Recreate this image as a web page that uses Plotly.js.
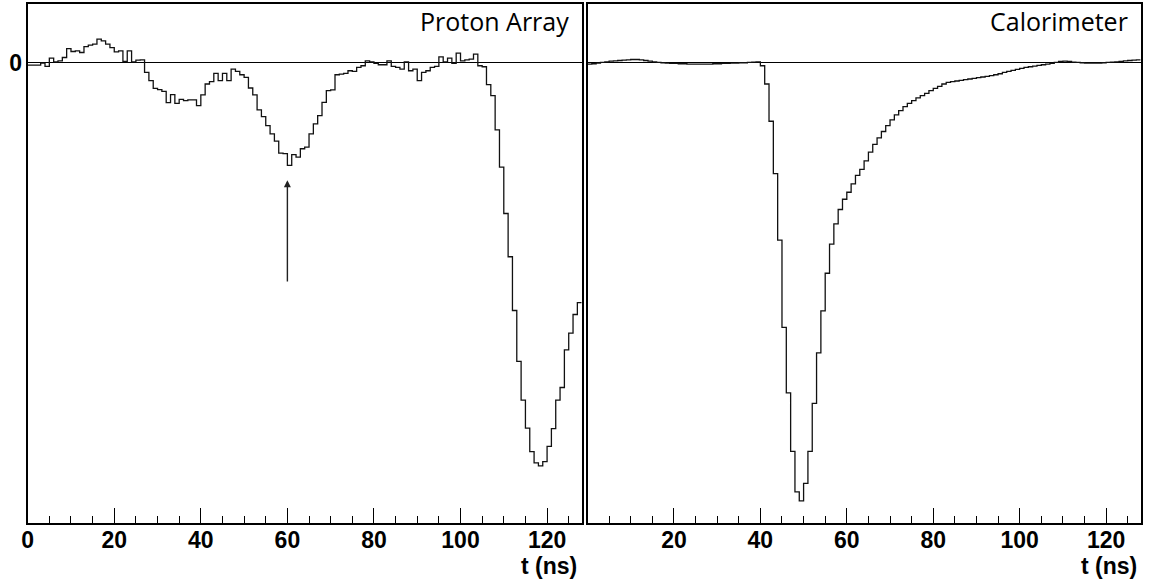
<!DOCTYPE html>
<html>
<head>
<meta charset="utf-8">
<script src="https://cdn.plot.ly/plotly-3.0.1.min.js"></script>
<style>html,body{margin:0;padding:0;background:#fff;}#chart{width:1153px;height:583px;}</style>
</head>
<body>
<div id="chart"></div>
<script>
// Bin lower edges (ns), 1 ns bins from 0 to 128
const binEdges = Array.from({length: 129}, (_, i) => i);

// Proton Array signal (arbitrary units, 0 = baseline)
const protonArray = [
  -2.3, -2.3, -2.3, -0.3, -3.7, 4.7, 1, 2, 5.3, 14.3,
  11.3, 12, 10.3, 16.3, 17.7, 18.7, 23.7, 22, 18.7, 15.3,
  11, 12, 1.3, 12, 1, 2.7, 3, -9.7, -18, -25.7,
  -27, -28.7, -40, -32, -40.7, -36.7, -38, -37.3, -37.3, -43,
  -32.3, -21.3, -19, -10.7, -18, -10.7, -18, -6.3, -8.7, -12,
  -14.7, -25.3, -32.3, -47.3, -54, -63, -71.3, -78.7, -90.7, -91.3,
  -103, -92.3, -94.7, -86.3, -84.7, -71.3, -61.3, -53, -39.7, -28,
  -27.3, -12, -11.3, -10.7, -8, -8.7, -4.7, -3, 2, 1,
  -0.7, -2, -2, 2, -3.7, -4.7, -6.3, 1, -8, -6.3,
  -18, -9.7, -8, -4.7, -3.7, 6, 1, 4.7, -0.7, 9.7,
  2, 3, 3.7, 8.7, -3, -4, -22, -33, -67.3, -104.7,
  -151.3, -194.7, -248.7, -299.7, -338.7, -366.7, -390.3, -401.7, -404.7, -400.3,
  -385, -367.3, -338.7, -326, -288.3, -271.3, -252.7, -240.7
];

// Calorimeter signal (arbitrary units, 0 = baseline)
const calorimeter = [
  -1.3, -1, -0.3, 0.3, 1, 1.7, 2, 2.3, 2.7, 3,
  3.3, 3.3, 3, 2.3, 1.7, 1, 0.3, 0, -0.3, -0.7,
  -0.7, -1, -1, -1.3, -1.3, -1.3, -1.3, -1.3, -1.3, -1,
  -1, -0.7, -0.7, -0.3, -0.3, 0, 0, 0.3, 0.7, 1,
  -3, -21.3, -58.7, -111.3, -178, -265.7, -331.3, -390, -430.7, -439.7,
  -422.3, -390, -342, -291.3, -249, -211.3, -182, -161.7, -147.3, -137,
  -130, -121.5, -113, -107, -98.5, -89.7, -82, -75.3, -69, -63,
  -57.3, -52.3, -48, -44, -40.7, -38, -35.3, -33, -30.7, -28,
  -25.7, -23.7, -21.3, -19.7, -19, -18.3, -17.7, -17, -16.3, -15.7,
  -15, -14.3, -13.7, -13, -12, -11, -9.7, -8.7, -7.7, -6.7,
  -5.7, -4.7, -4, -3.3, -2.7, -2, -1.3, -0.7, 0.3, 1.3,
  1.7, 1.3, 0.7, 0.3, 0, -0.3, -0.3, -0.3, -0.3, 0,
  0.3, 0.7, 1, 1.3, 2, 2.3, 2.7, 3
];

const panelTitles = ["Proton Array", "Calorimeter"];
const xTitle = "t (ns)";
const leftTicks = [0, 20, 40, 60, 80, 100, 120];
const rightTicks = [20, 40, 60, 80, 100, 120];
const arrowX = 60, arrowTip = -118, arrowTail = -221;
const yRange = [-462.3, 59];

function stepY(v) { return v.concat([v[v.length - 1]]); }

const W = 1153, H = 583;
const lineStyle = {color: '#111', width: 1.3, shape: 'hv'};

const traces = [
  {x: binEdges, y: stepY(protonArray), type: 'scatter', mode: 'lines', line: lineStyle,
   xaxis: 'x', yaxis: 'y', hoverinfo: 'skip'},
  {x: binEdges, y: stepY(calorimeter), type: 'scatter', mode: 'lines', line: lineStyle,
   xaxis: 'x2', yaxis: 'y2', hoverinfo: 'skip'}
];

const tickFont = {family: 'Liberation Sans, Arial, sans-serif', size: 23, weight: 'bold', color: '#000'};

function xAxis(domain, ticks, anchor) {
  return {
    domain: domain, range: [0, 128], anchor: anchor,
    showline: true, linecolor: '#000', linewidth: 2, mirror: true,
    showgrid: false, zeroline: false,
    tickmode: 'array', tickvals: ticks, ticktext: ticks.map(String),
    ticks: 'inside', ticklen: 15, tickwidth: 1, tickcolor: '#000',
    minor: {tickmode: 'linear', tick0: 0, dtick: 5, ticks: 'inside', ticklen: 7.5, tickwidth: 1, tickcolor: '#000', showgrid: false},
    tickfont: tickFont, ticklabelstandoff: -5
  };
}
function yAxis(anchor, showLabel) {
  return {
    domain: [(H - 523.3) / H, (H - 4) / H], range: yRange, anchor: anchor,
    showline: true, linecolor: '#000', linewidth: 2, mirror: true,
    showgrid: false, zeroline: true, zerolinecolor: '#000', zerolinewidth: 1,
    tickmode: 'array', tickvals: showLabel ? [0] : [], ticktext: showLabel ? ['0'] : [],
    ticks: '', showticklabels: showLabel, tickfont: tickFont, ticklabelstandoff: -1
  };
}

const layout = {
  width: W, height: H,
  margin: {l: 0, r: 0, t: 0, b: 0},
  paper_bgcolor: '#fff', plot_bgcolor: '#fff',
  showlegend: false,
  xaxis: xAxis([27.7 / W, 581.7 / W], leftTicks, 'y'),
  yaxis: yAxis('x', true),
  xaxis2: xAxis([587.5 / W, 1140.7 / W], rightTicks, 'y2'),
  yaxis2: Object.assign(yAxis('x2', false), {matches: 'y'}),
  annotations: [
    {text: panelTitles[0], xref: 'paper', yref: 'paper', x: 571 / W, y: (H - 21) / H,
     xanchor: 'right', yanchor: 'middle', showarrow: false,
     font: {family: 'Open Sans, sans-serif', size: 25, color: '#000'}},
    {text: panelTitles[1], xref: 'paper', yref: 'paper', x: 1130 / W, y: (H - 21) / H,
     xanchor: 'right', yanchor: 'middle', showarrow: false,
     font: {family: 'Open Sans, sans-serif', size: 25, color: '#000'}},
    {text: xTitle, xref: 'paper', yref: 'paper', x: 579 / W, y: (H - 566) / H,
     xanchor: 'right', yanchor: 'middle', showarrow: false, font: tickFont},
    {text: xTitle, xref: 'paper', yref: 'paper', x: 1139 / W, y: (H - 566) / H,
     xanchor: 'right', yanchor: 'middle', showarrow: false, font: tickFont},
    {text: '', x: arrowX, y: arrowTip, xref: 'x', yref: 'y', ax: arrowX, ay: arrowTail,
     axref: 'x', ayref: 'y', showarrow: true, arrowhead: 2, arrowsize: 1, arrowwidth: 1.4,
     arrowcolor: '#222'}
  ]
};

Plotly.newPlot('chart', traces, layout, {staticPlot: true, displayModeBar: false});
</script>
</body>
</html>
